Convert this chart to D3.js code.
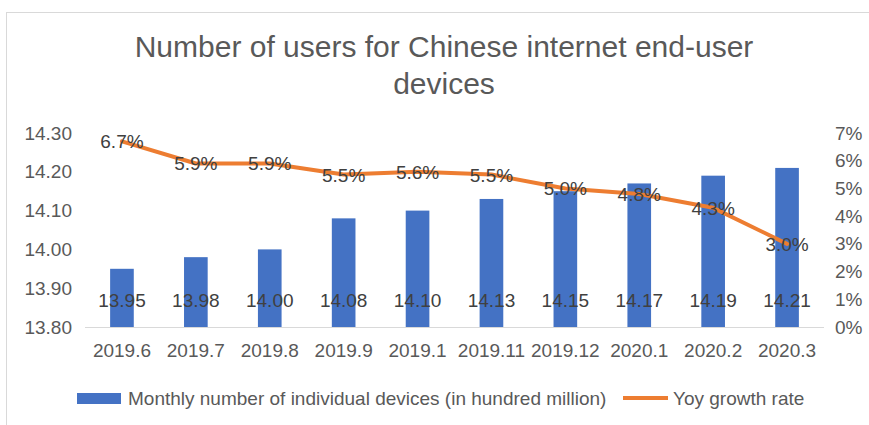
<!DOCTYPE html>
<html>
<head>
<meta charset="utf-8">
<script src="https://cdn.jsdelivr.net/npm/d3@7"></script>
<style>
  body { margin: 0; background: #fff; }
  text { font-family: "Liberation Sans", Arial, sans-serif; }
</style>
</head>
<body>
<svg width="869" height="425"></svg>
<script>
// chart data
var months = ["2019.6", "2019.7", "2019.8", "2019.9", "2019.1", "2019.11", "2019.12", "2020.1", "2020.2", "2020.3"];
var devices = [13.95, 13.98, 14.00, 14.08, 14.10, 14.13, 14.15, 14.17, 14.19, 14.21];
var growth = [6.7, 5.9, 5.9, 5.5, 5.6, 5.5, 5.0, 4.8, 4.3, 3.0];
var leftTicks = [13.80, 13.90, 14.00, 14.10, 14.20, 14.30];
var rightTicks = [0, 1, 2, 3, 4, 5, 6, 7];

var svg = d3.select("svg"),
    width = +svg.attr("width"),
    height = +svg.attr("height");

var textColor = "#595959";
var labelSize = 19;

// outer frame
svg.append("rect")
    .attr("x", 6.5).attr("y", 12.5)
    .attr("width", 880).attr("height", 430)
    .attr("fill", "#fff")
    .attr("stroke", "#d9d9d9");

svg.append("text")
    .attr("x", 444).attr("y", 57)
    .attr("text-anchor", "middle")
    .attr("font-size", 30)
    .attr("fill", textColor)
    .text("Number of users for Chinese internet end-user");
svg.append("text")
    .attr("x", 444).attr("y", 94)
    .attr("text-anchor", "middle")
    .attr("font-size", 30)
    .attr("fill", textColor)
    .text("devices");

var x = d3.scaleBand().domain(months).range([85, 824]).paddingInner(0.68).paddingOuter(0.34);
var y = d3.scaleLinear().domain([13.8, 14.3]).range([327, 133]);
var y2 = d3.scaleLinear().domain([0, 7]).range([327, 133]);

function styleTicks(g) {
    g.selectAll("text")
        .attr("font-size", labelSize)
        .attr("fill", textColor)
        .style("font-family", "Liberation Sans, Arial, sans-serif");
}

// left axis
var yAxis = svg.append("g")
    .attr("transform", "translate(85,0)")
    .call(d3.axisLeft(y).tickValues(leftTicks).tickFormat(d3.format(".2f")).tickSize(0).tickPadding(13));
yAxis.select(".domain").remove();
styleTicks(yAxis);

// right axis
var y2Axis = svg.append("g")
    .attr("transform", "translate(824,0)")
    .call(d3.axisRight(y2).tickValues(rightTicks).tickFormat(function(d) { return d + "%"; }).tickSize(0).tickPadding(11));
y2Axis.select(".domain").remove();
styleTicks(y2Axis);

// bars
svg.selectAll(".bar")
    .data(devices)
    .enter().append("rect")
    .attr("class", "bar")
    .attr("x", function(d, i) { return x(months[i]); })
    .attr("y", function(d) { return y(d); })
    .attr("width", x.bandwidth())
    .attr("height", function(d) { return y(13.8) - y(d); })
    .attr("fill", "#4472C4");

// category axis
var xAxis = svg.append("g")
    .attr("transform", "translate(0,327)")
    .call(d3.axisBottom(x).tickSize(0).tickPadding(17));
xAxis.select(".domain").attr("stroke", "#d9d9d9").attr("stroke-width", 1).attr("d", "M85,0.5H824");
styleTicks(xAxis);

// bar labels
svg.selectAll(".bar-label")
    .data(devices)
    .enter().append("text")
    .attr("class", "bar-label")
    .attr("x", function(d, i) { return x(months[i]) + x.bandwidth() / 2; })
    .attr("y", 307)
    .attr("text-anchor", "middle")
    .attr("font-size", labelSize)
    .attr("fill", "#404040")
    .text(function(d) { return d.toFixed(2); });

// growth line
var line = d3.line()
    .x(function(d, i) { return x(months[i]) + x.bandwidth() / 2; })
    .y(function(d) { return y2(d); });

svg.append("path")
    .datum(growth)
    .attr("d", line)
    .attr("fill", "none")
    .attr("stroke", "#ED7D31")
    .attr("stroke-width", 4)
    .attr("stroke-linejoin", "round")
    .attr("stroke-linecap", "round");

svg.selectAll(".line-label")
    .data(growth)
    .enter().append("text")
    .attr("class", "line-label")
    .attr("x", function(d, i) { return x(months[i]) + x.bandwidth() / 2; })
    .attr("y", function(d) { return y2(d) + 7; })
    .attr("text-anchor", "middle")
    .attr("font-size", labelSize)
    .attr("fill", "#404040")
    .text(function(d) { return d.toFixed(1) + "%"; });

// legend
var legend = svg.append("g");
legend.append("rect")
    .attr("x", 77).attr("y", 393)
    .attr("width", 44).attr("height", 11)
    .attr("fill", "#4472C4");
var legText = legend.append("text")
    .attr("x", 128).attr("y", 405)
    .attr("font-size", labelSize)
    .attr("fill", textColor)
    .text("Monthly number of individual devices (in hundred million)");
legend.append("line")
    .attr("x1", 623).attr("x2", 668)
    .attr("y1", 398).attr("y2", 398)
    .attr("stroke", "#ED7D31")
    .attr("stroke-width", 4);
legend.append("text")
    .attr("x", 673).attr("y", 405)
    .attr("font-size", labelSize)
    .attr("fill", textColor)
    .text("Yoy growth rate");
</script>
</body>
</html>
